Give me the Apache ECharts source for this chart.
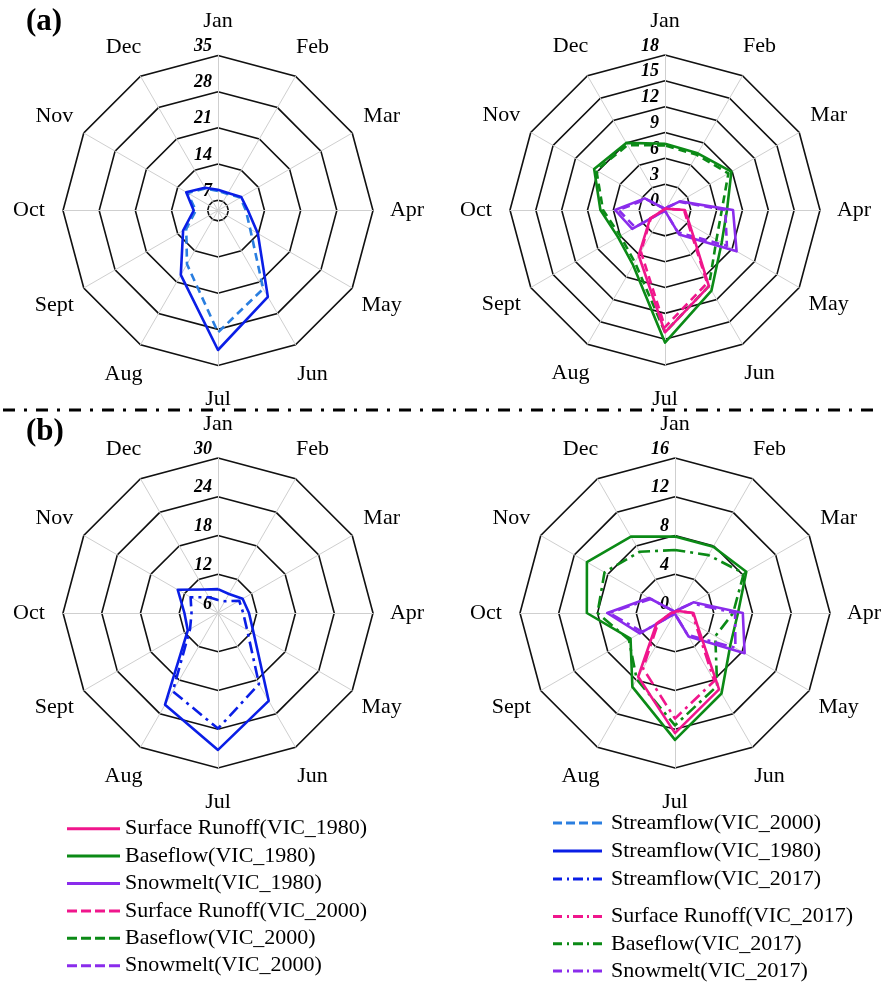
<!DOCTYPE html>
<html>
<head>
<meta charset="utf-8">
<title>Monthly runoff components</title>
<script src="https://cdn.jsdelivr.net/npm/echarts@6/dist/echarts.min.js"></script>
<style>
  html, body { margin: 0; padding: 0; background: #fff; }
  #chart { width: 882px; height: 985px; }
</style>
</head>
<body>
<div id="chart"></div>
<script>
// Month names, clockwise from the top
const MONTHS = ['Jan', 'Feb', 'Mar', 'Apr', 'May', 'Jun', 'Jul', 'Aug', 'Sept', 'Oct', 'Nov', 'Dec'];

// (a) left: streamflow
const streamflowA1980 = [9.0, 8.9, 10.2, 10.8, 13.9, 24.3, 32.0, 19.4, 12.8, 9.7, 12.1, 10.1];
const streamflowA2000 = [8.8, 8.7, 10.0, 10.4, 12.2, 22.5, 28.6, 17.0, 12.1, 9.3, 11.8, 9.9];
// (a) right: runoff components
const surfaceA1980  = [0.2, 0.2, 0.3, 2.3, 3.3, 10.2, 14.2, 6.1, 2.0, 0.2, 0.1, 0.1];
const surfaceA2000  = [0.2, 0.2, 0.3, 2.2, 3.1, 9.8, 13.6, 5.6, 1.9, 0.2, 0.1, 0.1];
const baseflowA1980 = [7.7, 7.6, 8.9, 7.2, 7.6, 10.8, 15.4, 7.4, 6.3, 7.5, 9.5, 9.0];
const baseflowA2000 = [7.5, 7.4, 8.5, 6.6, 6.9, 10.2, 14.2, 7.0, 6.0, 7.2, 9.2, 8.7];
const snowmeltA1980 = [0.1, 0.3, 2.0, 7.9, 9.6, 3.3, 0.1, 0.1, 4.4, 5.8, 2.7, 0.2];
const snowmeltA2000 = [0.1, 0.3, 1.9, 7.0, 8.3, 3.0, 0.1, 0.1, 4.0, 5.4, 2.5, 0.2];

// (b) left: streamflow
const streamflowB1980 = [9.7, 9.4, 10.4, 10.8, 12.4, 21.7, 27.2, 22.4, 11.4, 11.2, 13.2, 10.2];
const streamflowB2017 = [8.0, 8.1, 9.8, 9.9, 11.2, 18.7, 23.9, 20.0, 11.0, 10.1, 10.9, 8.8];
// (b) right: runoff components
const surfaceB1980  = [0.1, 0.2, 0.4, 1.9, 2.7, 9.1, 12.4, 7.6, 2.2, 0.4, 0.1, 0.1];
const surfaceB2017  = [0.1, 0.2, 0.4, 1.8, 2.5, 8.1, 10.9, 6.6, 2.0, 0.4, 0.1, 0.1];
const baseflowB1980 = [7.9, 7.9, 8.5, 6.5, 6.6, 9.6, 13.1, 8.8, 5.3, 9.1, 10.5, 9.1];
const baseflowB2017 = [6.5, 6.9, 8.2, 6.0, 4.8, 8.7, 11.6, 7.9, 5.5, 8.0, 8.4, 7.3];
const snowmeltB1980 = [0.1, 0.3, 2.2, 7.0, 8.3, 2.8, 0.1, 0.1, 4.2, 7.0, 3.1, 0.2];
const snowmeltB2017 = [0.1, 0.3, 2.0, 6.2, 7.2, 2.6, 0.1, 0.1, 3.9, 6.8, 2.9, 0.2];

// Radial scale of each panel: [min, max, step of the fine grid, labelled step]
const scaleA1 = [5, 35, 1, 7];
const scaleA2 = [0, 18, 3, 3];
const scaleB1 = [6, 30, 6, 6];
const scaleB2 = [0, 16, 4, 4];

const SERIF = 'Liberation Serif, Times New Roman, serif';
const C_PINK = '#f0168c';
const C_GREEN = '#0b8a16';
const C_PURPLE = '#8a2cec';
const C_BLUE = '#0a1ee6';
const C_LIGHTBLUE = '#2a7ee0';
const DASH = [8, 5];
const DASHDOT = [12, 5, 3, 5];

// radar lays indicators out counter-clockwise, so walk the months backwards from Jan
const ORDER = [0, 11, 10, 9, 8, 7, 6, 5, 4, 3, 2, 1];
const reorder = arr => ORDER.map(i => arr[i]);

function makeRadar(center, scale) {
  const [min, max, step, major] = scale;
  const n = Math.round((max - min) / step);
  const ratio = Math.round(major / step);
  // one ring colour per fine tick: only the labelled values get a visible ring
  const ringColors = [];
  for (let k = 0; k < ratio; k++) {
    const v = min + k * step;
    const isMajor = Math.abs(v / major - Math.round(v / major)) < 1e-6;
    ringColors.push(isMajor ? '#111' : 'rgba(0,0,0,0)');
  }
  return {
    center: center,
    radius: 155,
    startAngle: 90,
    splitNumber: n,
    shape: 'polygon',
    axisName: {
      color: '#000',
      fontFamily: SERIF,
      fontSize: 22,
      align: 'center',
      verticalAlign: 'middle'
    },
    nameGap: 34,
    axisLine: { show: true, lineStyle: { color: '#cfcfcf', width: 1 } },
    axisTick: { show: false },
    axisLabel: { show: false },
    splitLine: { show: true, lineStyle: { color: ringColors, width: 1.6 } },
    splitArea: { show: false },
    indicator: ORDER.map((mi, idx) => {
      const ind = { name: MONTHS[mi], min: min, max: max };
      if (idx === 0) {
        ind.axisLabel = {
          show: true,
          showMinLabel: true,
          showMaxLabel: true,
          color: '#000',
          fontFamily: SERIF,
          fontSize: 18,
          fontWeight: 'bold',
          fontStyle: 'italic',
          margin: 6,
          align: 'right',
          verticalAlign: 'bottom',
          formatter: function (v) {
            const r = v / major;
            if (Math.abs(r - Math.round(r)) > 1e-6) return '';
            if (scale === scaleA1 && v < major) return '';
            return String(Math.round(v));
          }
        };
      }
      return ind;
    })
  };
}

function item(name, values, color, type) {
  return {
    name: name,
    value: reorder(values),
    symbol: 'none',
    itemStyle: { color: color },
    lineStyle: { color: color, width: 2.6, type: type }
  };
}

const series = [
  {
    type: 'radar', radarIndex: 0, silent: true,
    data: [
      item('Streamflow(VIC_2000)', streamflowA2000, C_LIGHTBLUE, DASH),
      item('Streamflow(VIC_1980)', streamflowA1980, C_BLUE, 'solid')
    ]
  },
  {
    type: 'radar', radarIndex: 1, silent: true,
    data: [
      item('Baseflow(VIC_2000)', baseflowA2000, C_GREEN, DASH),
      item('Baseflow(VIC_1980)', baseflowA1980, C_GREEN, 'solid'),
      item('Snowmelt(VIC_2000)', snowmeltA2000, C_PURPLE, DASH),
      item('Snowmelt(VIC_1980)', snowmeltA1980, C_PURPLE, 'solid'),
      item('Surface Runoff(VIC_2000)', surfaceA2000, C_PINK, DASH),
      item('Surface Runoff(VIC_1980)', surfaceA1980, C_PINK, 'solid')
    ]
  },
  {
    type: 'radar', radarIndex: 2, silent: true,
    data: [
      item('Streamflow(VIC_2017)', streamflowB2017, C_BLUE, DASHDOT),
      item('Streamflow(VIC_1980)', streamflowB1980, C_BLUE, 'solid')
    ]
  },
  {
    type: 'radar', radarIndex: 3, silent: true,
    data: [
      item('Baseflow(VIC_2017)', baseflowB2017, C_GREEN, DASHDOT),
      item('Baseflow(VIC_1980)', baseflowB1980, C_GREEN, 'solid'),
      item('Snowmelt(VIC_2017)', snowmeltB2017, C_PURPLE, DASHDOT),
      item('Snowmelt(VIC_1980)', snowmeltB1980, C_PURPLE, 'solid'),
      item('Surface Runoff(VIC_2017)', surfaceB2017, C_PINK, DASHDOT),
      item('Surface Runoff(VIC_1980)', surfaceB1980, C_PINK, 'solid')
    ]
  }
];

// Legend line samples
const ICON_SOLID_L = 'path://M0,0H53V3H0Z';
const ICON_DASH_L = 'path://M0,0H10V3H0ZM14,0H24V3H14ZM28,0H38V3H28ZM42,0H53V3H42Z';
const ICON_SOLID_R = 'path://M0,0H49V3H0Z';
const ICON_DASH_R = 'path://M0,0H9V3H0ZM13,0H22V3H13ZM26,0H35V3H26ZM39,0H49V3H39Z';
const ICON_DASHDOT_R = 'path://M0,0H9V3H0ZM14,0H16V3H14ZM20,0H30V3H20ZM34,0H36V3H34ZM40,0H49V3H40Z';

function legend(left, top, lineH, width, entries, pad) {
  return {
    orient: 'vertical',
    left: left,
    top: top,
    padding: 0,
    itemWidth: width,
    itemHeight: 3,
    itemGap: 0,
    selectedMode: false,
    itemStyle: { borderWidth: 0 },
    lineStyle: { width: 0 },
    textStyle: {
      color: '#000', fontFamily: SERIF, fontSize: 22,
      lineHeight: lineH, padding: [0, 0, 0, pad]
    },
    data: entries.map(e => ({ name: e[0], icon: e[1] }))
  };
}

const option = {
  backgroundColor: '#fff',
  animation: false,
  radar: [
    makeRadar([218, 210.5], scaleA1),
    makeRadar([665, 210], scaleA2),
    makeRadar([218, 613], scaleB1),
    makeRadar([675, 613], scaleB2)
  ],
  legend: [
    legend(67, 815, 27.4, 53, [
      ['Surface Runoff(VIC_1980)', ICON_SOLID_L],
      ['Baseflow(VIC_1980)', ICON_SOLID_L],
      ['Snowmelt(VIC_1980)', ICON_SOLID_L],
      ['Surface Runoff(VIC_2000)', ICON_DASH_L],
      ['Baseflow(VIC_2000)', ICON_DASH_L],
      ['Snowmelt(VIC_2000)', ICON_DASH_L]
    ], 0),
    legend(553, 809, 28, 49, [
      ['Streamflow(VIC_2000)', ICON_DASH_R],
      ['Streamflow(VIC_1980)', ICON_SOLID_R],
      ['Streamflow(VIC_2017)', ICON_DASHDOT_R]
    ], 4),
    legend(553, 903, 27.2, 49, [
      ['Surface Runoff(VIC_2017)', ICON_DASHDOT_R],
      ['Baseflow(VIC_2017)', ICON_DASHDOT_R],
      ['Snowmelt(VIC_2017)', ICON_DASHDOT_R]
    ], 4)
  ],
  graphic: [
    {
      type: 'text', left: 26, top: 6,
      style: { text: '(a)', fill: '#000', font: 'bold 31px ' + SERIF }
    },
    {
      type: 'text', left: 26, top: 416,
      style: { text: '(b)', fill: '#000', font: 'bold 31px ' + SERIF }
    },
    {
      // dash-dot rule between the two rows of panels
      type: 'line',
      shape: { x1: 3, y1: 410, x2: 882, y2: 410 },
      style: { stroke: '#000', lineWidth: 2.8, lineDash: [12, 9, 3, 9] }
    }
  ],
  series: series
};

const chart = echarts.init(document.getElementById('chart'), null, { renderer: 'canvas' });
chart.setOption(option);
</script>
</body>
</html>
